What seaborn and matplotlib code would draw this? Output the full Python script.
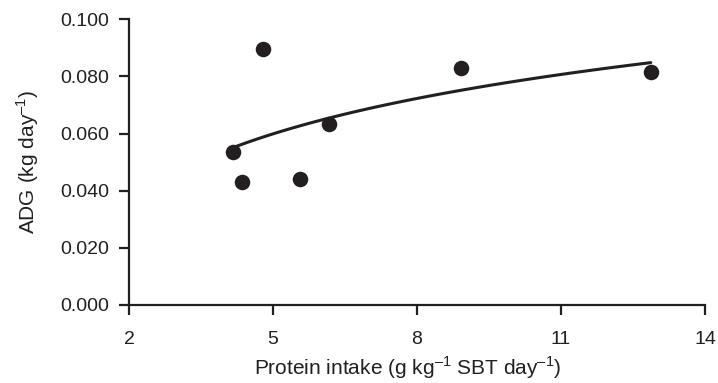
import matplotlib
matplotlib.use("Agg")
import matplotlib.pyplot as plt
import matplotlib.ticker as mticker
import numpy as np
import pandas as pd
import seaborn as sns

# dati
protein_intake = [4.17, 4.36, 4.79, 5.56, 6.17, 8.92, 12.87]
adg = [0.0534, 0.0432, 0.0895, 0.0440, 0.0634, 0.0831, 0.0817]
x_ticks = [2, 5, 8, 11, 14]
y_ticks = [0.000, 0.020, 0.040, 0.060, 0.080, 0.100]

ink = "#231f20"

sns.set_style("ticks")
plt.rcParams['font.family'] = ['Liberation Sans', 'DejaVu Sans']
plt.rcParams['mathtext.fontset'] = 'custom'
plt.rcParams['mathtext.rm'] = 'Liberation Sans'

df = pd.DataFrame({'protein': protein_intake, 'adg': adg})

fig = plt.figure(figsize=(7.18, 3.83), dpi=100)
ax = fig.add_axes([0.1797, 0.2037, 0.8022, 0.7459])

# retta di regressione logaritmica + punti
sns.regplot(x='protein', y='adg', data=df, logx=True, ci=None, ax=ax,
            scatter_kws={'s': 125, 'color': ink, 'alpha': 1, 'linewidths': 0, 'zorder': 3},
            line_kws={'color': ink, 'lw': 2.2, 'zorder': 2})

ax.set_xlim(2, 14)
ax.set_ylim(0, 0.1)
ax.set_xticks(x_ticks)
ax.set_yticks(y_ticks)
ax.yaxis.set_major_formatter(mticker.FormatStrFormatter('%.3f'))

for side in ['top', 'right']:
    ax.spines[side].set_visible(False)
for side in ['left', 'bottom']:
    ax.spines[side].set_color(ink)
    ax.spines[side].set_linewidth(1.6)

ax.tick_params(axis='both', direction='out', length=7, width=1.6, color=ink,
               labelsize=14, labelcolor=ink)
ax.tick_params(axis='x', pad=12)
ax.tick_params(axis='y', pad=7)

ax.set_xlabel(r'Protein intake (g kg$^{\mathregular{–1}}$ SBT day$^{\mathregular{–1}}$)',
              fontsize=15, color=ink, labelpad=4)
ax.xaxis.label.set_x(0.484)
ax.set_ylabel(r'ADG (kg day$^{\mathregular{–1}}$)', fontsize=15, color=ink, labelpad=14)

plt.savefig('out.png', dpi=100)
